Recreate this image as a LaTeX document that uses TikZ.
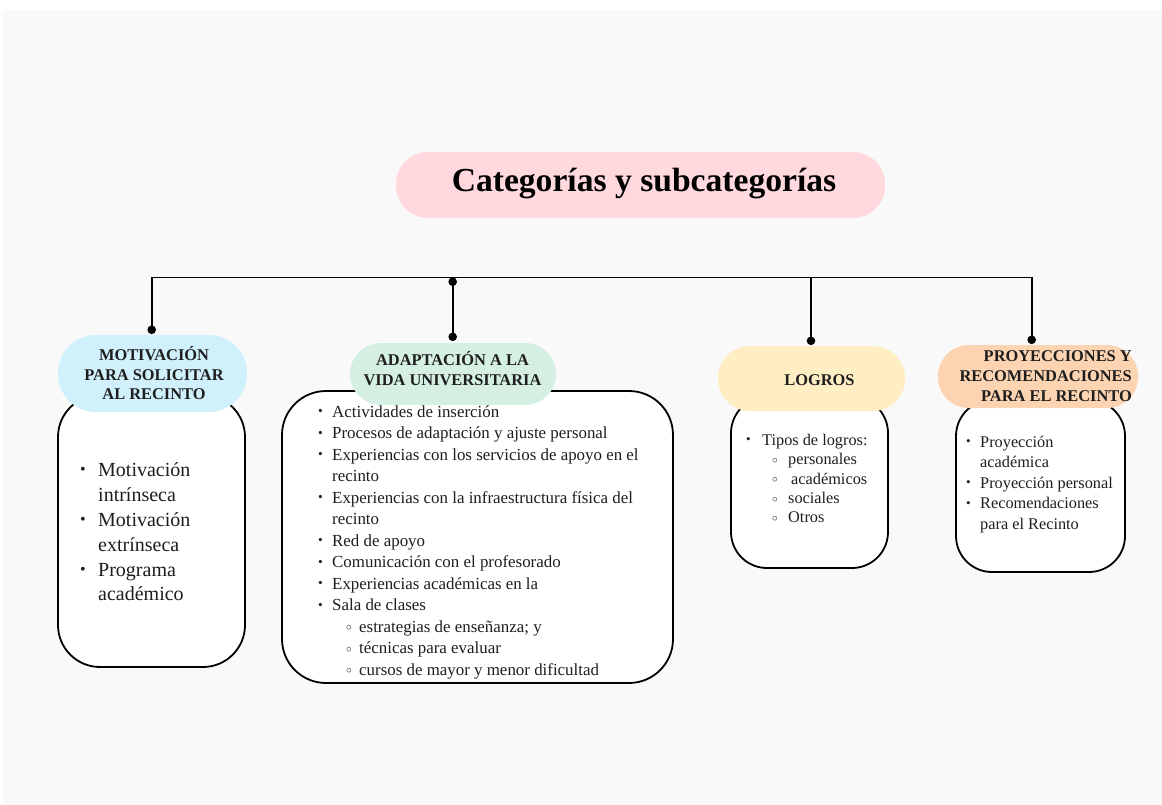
\documentclass[tikz,border=0pt]{standalone}
\usepackage{fontspec}
\setmainfont{Liberation Serif}
\usepackage{graphicx}
\usetikzlibrary{arrows.meta}
\definecolor{bgc}{RGB}{249,249,249}
\definecolor{titlec}{RGB}{255,217,222}
\definecolor{bluec}{RGB}{208,240,252}
\definecolor{greenc}{RGB}{213,240,227}
\definecolor{yellowc}{RGB}{255,237,196}
\definecolor{orangec}{RGB}{252,212,178}
\definecolor{txtc}{RGB}{30,30,30}
\newcommand{\topln}{\rule{0pt}{16pt}}
\newcommand{\bitem}[2]{\makebox[#1][l]{\raisebox{0.1em}{\scalebox{0.8}{\textbullet}}}#2}
\newcommand{\citem}[3]{\hspace*{#1}\makebox[#2][l]{\raisebox{0.08em}{\scalebox{0.65}{$\circ$}}}#3}
\tikzset{
  pill/.style={rectangle, rounded corners=#1, inner sep=0pt, draw=none},
  bodybox/.style={rectangle, draw=black, line width=1.8pt, fill=white, inner sep=0pt},
  wire/.style={line width=1.6pt, black},
  headtxt/.style={inner sep=0pt, text=txtc, font={\bfseries\fontsize{16.4}{19.8}\selectfont}},
  bodytxt/.style={inner sep=0pt, text=txtc, align=left, anchor=north west},
  dotend/.style={-{Circle[length=8.5pt,width=8.5pt]}},
  dotboth/.style={{Circle[length=8.5pt,width=8.5pt]}-{Circle[length=8.5pt,width=8.5pt]}}
}
\begin{document}
\begin{tikzpicture}[x=1pt,y=-1pt]
\useasboundingbox (0,0) rectangle (1162,805);
\fill[white] (0,0) rectangle (1162,805);
\fill[bgc] (3,10) rectangle (1162,805);

% title
\node[pill=32pt, fill=titlec, minimum width=489pt, minimum height=66pt] (title) at (640.5,185) {};
\node[inner sep=0pt, anchor=base, text=black, font={\bfseries\fontsize{33.6}{40}\selectfont}] (titletxt) at (644,192) {Categorías y subcategorías};

% body boxes
\node[bodybox, rounded corners=42pt, minimum width=187pt, minimum height=272pt] (b1) at (151.5,531) {};
\node[bodybox, rounded corners=44pt, minimum width=391pt, minimum height=292pt] (b2) at (477.5,537) {};
\node[bodybox, rounded corners=36pt, minimum width=157pt, minimum height=171pt] (b3) at (809.5,482.5) {};
\node[bodybox, rounded corners=36pt, minimum width=169pt, minimum height=172pt] (b4) at (1040.5,486) {};

% header pills
\node[pill=38pt, fill=bluec, minimum width=189pt, minimum height=77pt] (h1) at (152.5,373.5) {};
\node[pill=31pt, fill=greenc, minimum width=206pt, minimum height=62pt] (h2) at (453,374) {};
\node[pill=32pt, fill=yellowc, minimum width=187pt, minimum height=65pt] (h3) at (811.5,378.5) {};
\node[pill=31pt, fill=orangec, minimum width=200pt, minimum height=63pt] (h4) at (1038,376.5) {};

% header texts
\node[headtxt, align=center, anchor=north] (ht1) at (154,344) {\topln MOTIVACIÓN\\PARA SOLICITAR\\AL RECINTO};
\node[headtxt, align=center, anchor=north] (ht2) at (452.5,349) {\topln ADAPTACIÓN A LA\\VIDA UNIVERSITARIA};
\node[headtxt, anchor=base] (ht3) at (819.5,385) {LOGROS};
\node[headtxt, align=right, anchor=north east] (ht4) at (1132,345.7) {\topln PROYECCIONES Y\\RECOMENDACIONES\\PARA EL RECINTO};

% connectors
\coordinate (j1) at (151.7,277.5);
\coordinate (j2) at (452.7,277.5);
\coordinate (j3) at (811,277.5);
\coordinate (j4) at (1031.7,277.5);
\draw[wire, dotboth, shorten <=0.75pt, shorten >=0.75pt] (j1 |- h1.north) -- (j1) -- (j4) -- (j4 |- h4.north);
\draw[wire, dotboth, shorten >=1.75pt] (j2) -- (j2 |- h2.north);
\draw[wire, dotend, shorten >=0.75pt] (j3) -- (j3 |- h3.north);

% body texts
\node[bodytxt, font={\fontsize{20}{24.8}\selectfont}] (bt1) at (80,460.7) {\topln\bitem{18pt}{Motivación}\\
\hspace*{18pt}intrínseca\\
\bitem{18pt}{Motivación}\\
\hspace*{18pt}extrínseca\\
\bitem{18pt}{Programa}\\
\hspace*{18pt}académico};

\node[bodytxt, font={\fontsize{16.9}{21.5}\selectfont}] (bt2) at (318,401) {\topln\bitem{14pt}{Actividades de inserción}\\
\bitem{14pt}{Procesos de adaptación y ajuste personal}\\
\bitem{14pt}{Experiencias con los servicios de apoyo en el}\\
\hspace*{14pt}recinto\\
\bitem{14pt}{Experiencias con la infraestructura física del}\\
\hspace*{14pt}recinto\\
\bitem{14pt}{Red de apoyo}\\
\bitem{14pt}{Comunicación con el profesorado}\\
\bitem{14pt}{Experiencias académicas en la}\\
\bitem{14pt}{Sala de clases}\\
\citem{28pt}{13pt}{estrategias de enseñanza; y}\\
\citem{28pt}{13pt}{técnicas para evaluar}\\
\citem{28pt}{13pt}{cursos de mayor y menor dificultad}};

\node[bodytxt, font={\fontsize{16.3}{19.4}\selectfont}] (bt3) at (746,429) {\topln\bitem{16pt}{Tipos de logros:}\\
\citem{26pt}{16pt}{personales}\\
\citem{26pt}{16pt}{\hspace*{3pt}académicos}\\
\citem{26pt}{16pt}{sociales}\\
\citem{26pt}{16pt}{Otros}};

\node[bodytxt, font={\fontsize{16.3}{20.5}\selectfont}] (bt4) at (966,431) {\topln\bitem{14pt}{Proyección}\\
\hspace*{14pt}académica\\
\bitem{14pt}{Proyección personal}\\
\bitem{14pt}{Recomendaciones}\\
\hspace*{14pt}para el Recinto};
\end{tikzpicture}
\end{document}
